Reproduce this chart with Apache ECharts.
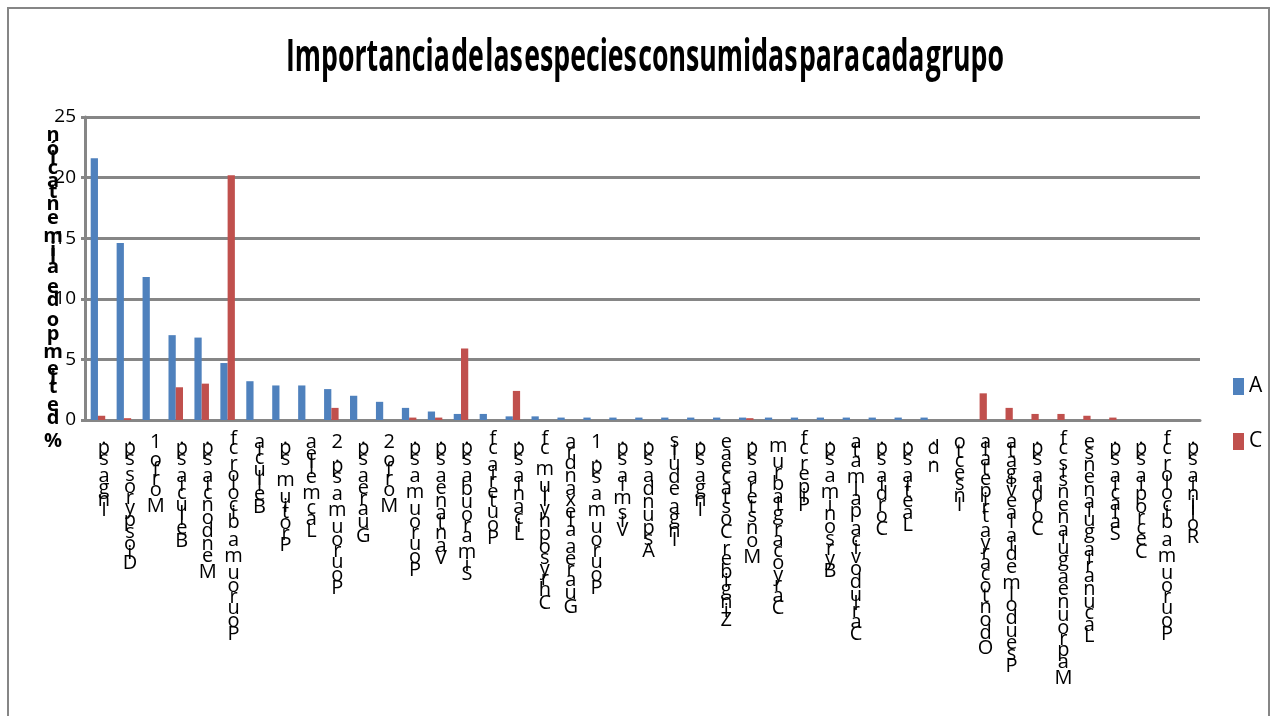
<!DOCTYPE html>
<html>
<head>
<meta charset="utf-8">
<script src="https://cdn.jsdelivr.net/npm/echarts@6/dist/echarts.min.js"></script>
<style>
  html, body { margin: 0; padding: 0; background: #ffffff; }
  #chart { width: 1274px; height: 716px; }
</style>
</head>
<body>
<div id="chart"></div>
<script>
// ---- data ----
const chartTitle = 'Importancia de las especies consumidas para cada grupo';
const yAxisTitle = '% de tiempo de alimentación';
const seriesNames = ['A', 'C'];

const categories = [
  'Inga sp.', 'Diospyros sp.', 'Morfo 1', 'Bellucia sp.', 'Mendoncia sp.',
  'Pourouma bicolor cf', 'Bellucia', 'Protium sp.', 'Lacmellea', 'Pourouma sp. 2',
  'Guarea sp.', 'Morfo 2', 'Pourouma sp.', 'Vantanea sp.', 'Simarouba sp.',
  'Pouteria cf', 'Licania sp.', 'Chrysophyllum cf', 'Guarea alexandra', 'Pourouma sp. 1',
  'Vismia sp.', 'Aspunda sp.', 'Inga edulis', 'Inga sp.', 'Zingiber Costaceae',
  'Monstera sp.', 'Caryocar glabrum', 'Piper cf', 'Byrsonima sp.', 'Carludovica palmata',
  'Cordia sp.', 'Laetia sp.', 'n.d.', 'Insecto', 'Odontocarya tripetala',
  'Pseudolmedia laevigata', 'Cordia sp.', 'Maprounea guianensis cf', 'Lacunaria guianense', 'Salacia sp.',
  'Cecropia sp.', 'Pourouma bicolor cf', 'Rollinia sp.'
];

const valuesA = [
  21.6, 14.6, 11.8, 7.0, 6.8, 4.7, 3.2, 2.85, 2.85, 2.55,
  2.0, 1.5, 1.0, 0.7, 0.5, 0.5, 0.3, 0.3, 0.2, 0.2,
  0.2, 0.2, 0.2, 0.2, 0.2, 0.2, 0.2, 0.2, 0.2, 0.2,
  0.2, 0.2, 0.2, 0, 0, 0, 0, 0, 0, 0,
  0, 0, 0
];

const valuesC = [
  0.35, 0.15, 0, 2.7, 3.0, 20.2, 0, 0, 0, 1.0,
  0, 0, 0.2, 0.2, 5.9, 0, 2.4, 0, 0, 0,
  0, 0, 0, 0, 0, 0.15, 0, 0, 0, 0,
  0, 0, 0, 0, 2.2, 1.0, 0.5, 0.5, 0.35, 0.2,
  0, 0, 0
];

const yMin = 0;
const yMax = 25;
const yStep = 5;

// ---- rotated-text emulation: upright glyphs stacked bottom-to-top,
// each glyph advancing by its own width ----
const measure = document.createElement('canvas').getContext('2d');
function stackText(text, size, weight, family, spread, rich, prefix) {
  measure.font = weight + ' ' + size + 'px ' + family;
  return Array.from(text).reverse().map(function (ch) {
    const adv2 = Math.max(1, Math.round(measure.measureText(ch).width * spread * 2));
    const key = prefix + adv2;
    if (!rich[key]) {
      rich[key] = {
        lineHeight: adv2 / 2,
        fontSize: size,
        fontWeight: weight,
        fontFamily: family,
        color: '#000000',
        align: 'center'
      };
    }
    return '{' + key + '|' + ch + '}';
  }).join('\n');
}

const catRich = {};
const catLabels = categories.map(function (c) {
  return stackText(c, 20, 'normal', 'Open Sans', 1.08, catRich, 'c');
});

const nameRich = {};
const yNameText = stackText(yAxisTitle, 20, 'bold', 'Open Sans', 1.11, nameRich, 'n');

// title: tight word spacing, then squeezed horizontally to a condensed look
const titleSize = 44;
const titleFamily = 'Open Sans';
const spaceSize = 9;
const titleRich = {
  w: { fontSize: titleSize, fontWeight: 'bold', fontFamily: titleFamily, fill: '#000000' },
  s: { fontSize: spaceSize, fontWeight: 'bold', fontFamily: titleFamily, fill: '#000000' }
};
const titleWords = chartTitle.split(' ');
const titleRichText = titleWords.map(function (w) { return '{w|' + w + '}'; }).join('{s| }');
measure.font = 'bold ' + titleSize + 'px "' + titleFamily + '"';
let titleWidth = 0;
titleWords.forEach(function (w) { titleWidth += measure.measureText(w).width; });
measure.font = 'bold ' + spaceSize + 'px "' + titleFamily + '"';
titleWidth += measure.measureText(' ').width * (titleWords.length - 1);
const titleScale = 718 / titleWidth;

const axisGray = '#868686';

const chart = echarts.init(document.getElementById('chart'));
chart.setOption({
  animation: false,
  backgroundColor: '#ffffff',
  grid: { left: 85, right: 74, top: 117, bottom: 296 },
  legend: {
    orient: 'vertical',
    left: 1228,
    top: 371,
    icon: 'rect',
    itemWidth: 11,
    itemHeight: 17,
    itemGap: 34,
    textStyle: { fontFamily: 'Open Sans', fontSize: 21, color: '#000000', lineHeight: 17 },
    data: seriesNames
  },
  xAxis: {
    type: 'category',
    data: categories,
    axisLine: { show: true, lineStyle: { color: axisGray, width: 3 } },
    axisTick: { show: false },
    axisLabel: {
      interval: 0,
      hideOverlap: false,
      margin: 16,
      padding: [0, 0, 0, 12],
      formatter: function (value, index) { return catLabels[index]; },
      rich: catRich
    }
  },
  yAxis: {
    type: 'value',
    min: yMin,
    max: yMax,
    interval: yStep,
    axisLine: { show: true, lineStyle: { color: axisGray, width: 3 } },
    axisTick: { show: true, length: 4, lineStyle: { color: axisGray, width: 3 } },
    splitLine: { show: true, lineStyle: { color: axisGray, width: 3 } },
    axisLabel: { margin: 9, fontFamily: 'Open Sans', fontSize: 19, color: '#000000' }
  },
  series: [
    {
      name: seriesNames[0],
      type: 'bar',
      data: valuesA,
      barWidth: '28%',
      barGap: '0%',
      itemStyle: { color: '#4F81BD' }
    },
    {
      name: seriesNames[1],
      type: 'bar',
      data: valuesC,
      barWidth: '28%',
      barGap: '0%',
      itemStyle: { color: '#C0504D' }
    }
  ],
  graphic: [
    {
      type: 'rect',
      silent: true,
      z: -10,
      shape: { x: 8, y: 8, width: 1261, height: 730 },
      style: { fill: 'none', stroke: axisGray, lineWidth: 2 }
    },
    {
      type: 'text',
      silent: true,
      x: 645,
      y: 58,
      scaleX: titleScale,
      style: {
        text: titleRichText,
        rich: titleRich,
        fill: '#000000',
        align: 'center',
        verticalAlign: 'middle'
      }
    },
    {
      type: 'text',
      silent: true,
      x: 53,
      y: 128,
      z: 10,
      style: {
        text: yNameText,
        rich: nameRich,
        fill: '#000000',
        align: 'center',
        verticalAlign: 'top'
      }
    }
  ]
});
</script>
</body>
</html>
